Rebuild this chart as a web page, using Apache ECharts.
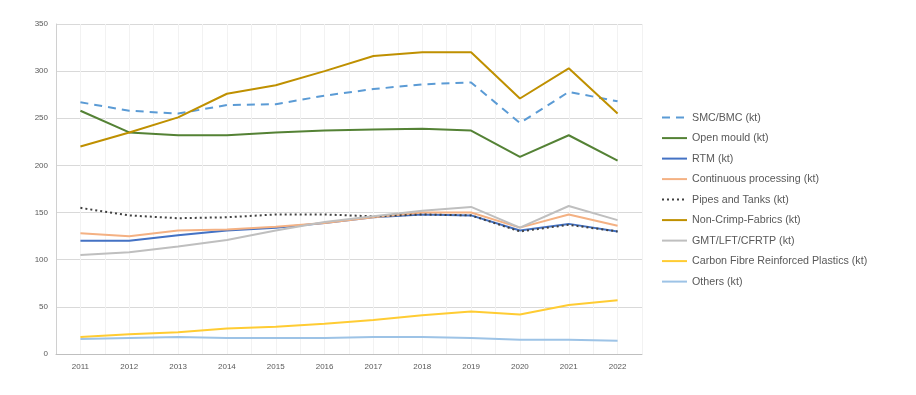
<!DOCTYPE html>
<html>
<head>
<meta charset="utf-8">
<script src="https://cdn.jsdelivr.net/npm/echarts@6/dist/echarts.min.js"></script>
<style>
html,body{margin:0;padding:0;background:#fff;}
#chart{width:916px;height:395px;}
</style>
</head>
<body>
<div id="chart"></div>
<script>
const years = [2011, 2012, 2013, 2014, 2015, 2016, 2017, 2018, 2019, 2020, 2021, 2022];
const smcBmc      = [267, 258, 255, 264, 265, 274, 281, 286, 288, 245, 278, 268];
const openMould   = [258, 235, 232, 232, 235, 237, 238, 239, 237, 209, 232, 205];
const rtm         = [120, 120, 126, 131, 134, 139, 145, 148, 147, 131, 138, 130];
const continuous  = [128, 125, 131, 132, 135, 139, 145, 150, 150, 134, 148, 136];
const pipesTanks  = [155, 147, 144, 145, 148, 148, 146, 148, 147, 130, 137, 130];
const nonCrimp    = [220, 235, 251, 276, 285, 300, 316, 320, 320, 271, 303, 255];
const gmt         = [105, 108, 114, 121, 131, 140, 146, 152, 156, 134, 157, 142];
const carbon      = [18, 21, 23, 27, 29, 32, 36, 41, 45, 42, 52, 57];
const others      = [16, 17, 18, 17, 17, 17, 18, 18, 17, 15, 15, 14];
const yTicks = [0, 50, 100, 150, 200, 250, 300, 350];

const seriesDefs = [
  {name: 'SMC/BMC (kt)', data: smcBmc, color: '#5B9BD5', type: [8, 6]},
  {name: 'Open mould (kt)', data: openMould, color: '#548235', type: 'solid'},
  {name: 'RTM (kt)', data: rtm, color: '#4472C4', type: 'solid'},
  {name: 'Continuous processing (kt)', data: continuous, color: '#F4B183', type: 'solid'},
  {name: 'Pipes and Tanks (kt)', data: pipesTanks, color: '#404040', type: [2, 3]},
  {name: 'Non-Crimp-Fabrics (kt)', data: nonCrimp, color: '#BF9000', type: 'solid'},
  {name: 'GMT/LFT/CFRTP (kt)', data: gmt, color: '#BFBFBF', type: 'solid'},
  {name: 'Carbon Fibre Reinforced Plastics (kt)', data: carbon, color: '#FFCC33', type: 'solid'},
  {name: 'Others (kt)', data: others, color: '#9DC3E6', type: 'solid'}
];

const chart = echarts.init(document.getElementById('chart'), null, {renderer: 'canvas'});
const font = '"Liberation Sans", "DejaVu Sans", sans-serif';
chart.setOption({
  animation: false,
  backgroundColor: '#ffffff',
  grid: {left: 56, top: 24, right: 274, bottom: 41, containLabel: false},
  legend: {
    orient: 'vertical',
    left: 656,
    top: 107,
    itemWidth: 25,
    itemHeight: 14,
    itemGap: 9.3,
    itemStyle: {opacity: 0},
    textStyle: {fontFamily: font, fontSize: 10.7, color: '#595959'},
    data: seriesDefs.map(s => s.name)
  },
  xAxis: {
    type: 'value',
    min: 2010.5,
    max: 2022.5,
    interval: 0.5,
    axisLine: {show: true, lineStyle: {color: '#BFBFBF', width: 1}},
    axisTick: {show: false},
    splitLine: {show: true, lineStyle: {color: '#F2F2F2', width: 1}},
    axisLabel: {
      fontFamily: font, fontSize: 8, color: '#595959', margin: 9,
      formatter: v => years.includes(v) ? String(v) : ''
    }
  },
  yAxis: {
    type: 'value',
    min: yTicks[0],
    max: yTicks[yTicks.length - 1],
    interval: 50,
    axisLine: {show: true, lineStyle: {color: '#D0D0D0', width: 1}},
    axisTick: {show: false},
    splitLine: {show: true, lineStyle: {color: '#D9D9D9', width: 1}},
    axisLabel: {fontFamily: font, fontSize: 8, color: '#595959', margin: 8}
  },
  series: seriesDefs.map(s => ({
    name: s.name,
    type: 'line',
    data: years.map((y, i) => [y, s.data[i]]),
    symbol: 'none',
    smooth: false,
    color: s.color,
    lineStyle: {color: s.color, width: 2, type: s.type}
  }))
});
</script>
</body>
</html>
